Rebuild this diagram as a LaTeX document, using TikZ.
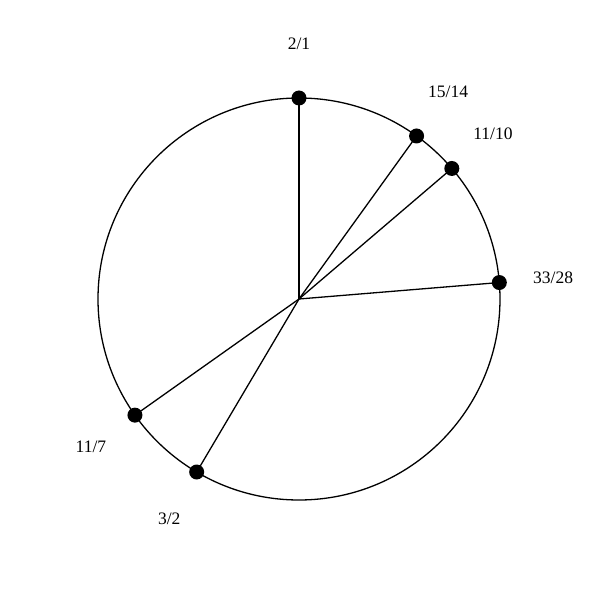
\documentclass[tikz,border=0pt]{standalone}
\usepackage{fontspec}
\setmainfont{Liberation Serif}
\begin{document}
\begin{tikzpicture}[x=1pt,y=1pt,
  spoke/.style={line width=1.3pt},
  dot/.style={circle,fill=black,inner sep=0pt,minimum size=15pt},
  lbl/.style={font=\fontsize{17.5}{20}\selectfont}]
\useasboundingbox (-299,-301) rectangle (301,299);
\coordinate (o) at (0,0);
\draw[spoke] (o) circle (201);
\foreach \n/\a/\t in {a/90/2\slash 1, b/54.2/15\slash 14, c/40.5/11\slash 10, d/4.7/33\slash 28, e/215.3/11\slash 7, f/239.4/3\slash 2}{
  \draw[spoke] (o) -- (\a:201);
  \node[dot] (\n) at (\a:201) {};
  \node[lbl] (\n l) at (\a:255) {\t};
}
\end{tikzpicture}
\end{document}
